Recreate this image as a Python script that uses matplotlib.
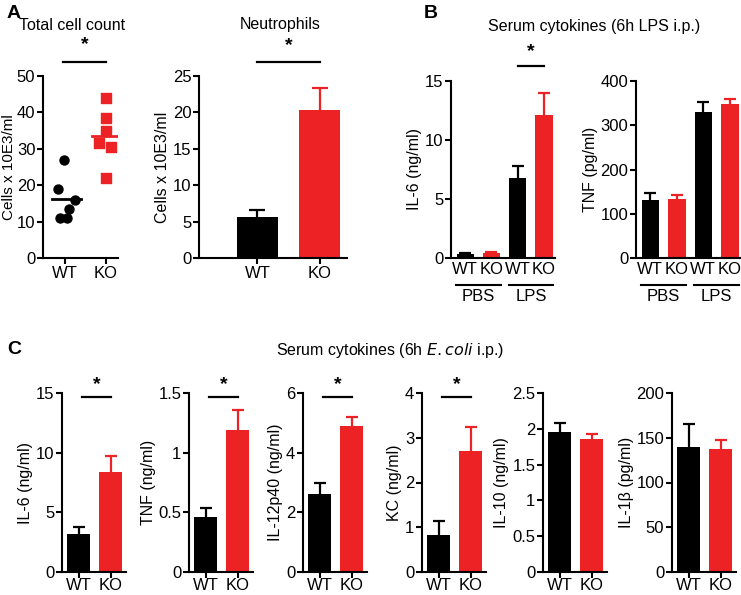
import numpy as np
import matplotlib.pyplot as plt

plt.rcParams['font.family'] = ['Liberation Sans', 'DejaVu Sans']
plt.rcParams['font.size'] = 10

RED = '#ED2224'
BLACK = '#000000'

# Panel A data
groups = ['WT', 'KO']
total_wt = [27, 19, 16, 13.5, 11, 11]
total_ko = [44, 38.5, 35, 31.5, 30.5, 22]
total_wt_x = [-0.03, -0.17, 0.25, 0.1, -0.12, 0.05]
total_ko_x = [0.0, 0.0, 0.0, -0.15, 0.13, 0.0]
neut_mean = [5.6, 20.3]
neut_err = [1.0, 3.0]

# Panel B data (WT PBS, KO PBS, WT LPS, KO LPS)
b_labels = ['WT', 'KO', 'WT', 'KO']
lps_il6 = [0.3, 0.4, 6.8, 12.1]
lps_il6_err = [0.1, 0.07, 1.0, 1.9]
lps_tnf = [132, 133, 329, 348]
lps_tnf_err = [16, 10, 24, 12]

# Panel C data
c_names = ['IL-6 (ng/ml)', 'TNF (ng/ml)', 'IL-12p40 (ng/ml)', 'KC (ng/ml)',
           'IL-10 (ng/ml)', 'IL-1\u03b2 (pg/ml)']
c_wt = [3.2, 0.46, 2.6, 0.83, 1.96, 140]
c_wt_err = [0.6, 0.08, 0.4, 0.3, 0.12, 25]
c_ko = [8.4, 1.19, 4.9, 2.7, 1.86, 137]
c_ko_err = [1.3, 0.17, 0.3, 0.53, 0.07, 11]
c_ymax = [15, 1.5, 6, 4, 2.5, 200]
c_ticks = [[0, 5, 10, 15], [0, 0.5, 1, 1.5], [0, 2, 4, 6], [0, 1, 2, 3, 4],
           [0, 0.5, 1, 1.5, 2, 2.5], [0, 50, 100, 150, 200]]
c_ticklabels = [['0', '5', '10', '15'], ['0', '0.5', '1', '1.5'],
                ['0', '2', '4', '6'], ['0', '1', '2', '3', '4'],
                ['0', '0.5', '1', '1.5', '2', '2.5'],
                ['0', '50', '100', '150', '200']]
c_sig = [True, True, True, True, False, False]

W, H = 741, 595
TICK_FS = 12
LABEL_FS = 11.5
fig = plt.figure(figsize=(W / 100, H / 100), dpi=100)


def add_ax(left, right, top, bottom):
    return fig.add_axes([left / W, 1 - bottom / H, (right - left) / W, (bottom - top) / H])


def style(ax):
    for s in ['top', 'right']:
        ax.spines[s].set_visible(False)
    for s in ['left', 'bottom']:
        ax.spines[s].set_linewidth(1.5)
    ax.tick_params(width=1.5, length=4, labelsize=TICK_FS, pad=1.5)


def err_up(ax, x, y, e, color, capsize):
    # upward-only error bar with a single cap
    res = ax.errorbar([x], [y], yerr=[[0], [e]], fmt='none', ecolor=color,
                      elinewidth=1.6, capsize=capsize, capthick=1.6)
    res[1][0].set_visible(False)


def sig(ax, x0, x1, y, star_y):
    ax.plot([x0, x1], [y, y], color='black', lw=1.6, clip_on=False)
    ax.text((x0 + x1) / 2, star_y, '*', ha='center', va='center', fontsize=14,
            fontweight='bold', clip_on=False)


# ---- A: total cell count
ax = add_ax(43, 118, 76, 258)
style(ax)
ax.scatter(total_wt_x, total_wt, s=42, color=BLACK, marker='o', zorder=3)
ax.scatter(np.array(total_ko_x) + 1, total_ko, s=42, color=RED, marker='s', zorder=3)
ax.plot([-0.33, 0.38], [np.mean(total_wt)] * 2, color=BLACK, lw=2)
ax.plot([0.67, 1.33], [np.mean(total_ko)] * 2, color=RED, lw=2)
ax.set_xlim(-0.55, 1.31)
ax.set_ylim(0, 50)
ax.set_yticks([0, 10, 20, 30, 40, 50])
ax.set_xticks([0, 1])
ax.set_xticklabels(groups)
ax.set_ylabel('Cells x 10E3/ml', fontsize=11, labelpad=0.5)
sig(ax, -0.05, 1.0, 53.8, 58.5)
fig.text(72 / W, 1 - 25 / H, 'Total cell count', ha='center', va='center', fontsize=LABEL_FS)

# ---- A: neutrophils
ax = add_ax(199, 347, 76, 258)
style(ax)
ax.bar([0, 1], neut_mean, width=0.66, color=[BLACK, RED])
err_up(ax, 0, neut_mean[0], neut_err[0], BLACK, 6)
err_up(ax, 1, neut_mean[1], neut_err[1], RED, 6)
ax.set_xlim(-0.94, 1.44)
ax.set_ylim(0, 25)
ax.set_yticks([0, 5, 10, 15, 20, 25])
ax.set_xticks([0, 1])
ax.set_xticklabels(groups)
ax.set_ylabel('Cells x 10E3/ml', fontsize=LABEL_FS, labelpad=2)
sig(ax, 0.0, 1.0, 26.9, 29.2)
fig.text(280 / W, 1 - 25 / H, 'Neutrophils', ha='center', va='center', fontsize=LABEL_FS)

# ---- B
fig.text(594 / W, 1 - 27 / H, 'Serum cytokines (6h LPS i.p.)', ha='center', va='center',
         fontsize=LABEL_FS)
b_colors = [BLACK, RED, BLACK, RED]
for (left, right, vals, errs, ymax, ticks, ylabel) in [
        (451, 555, lps_il6, lps_il6_err, 15, [0, 5, 10, 15], 'IL-6 (ng/ml)'),
        (636, 741, lps_tnf, lps_tnf_err, 400, [0, 100, 200, 300, 400], 'TNF (pg/ml)')]:
    ax = add_ax(left, right, 81, 258)
    style(ax)
    xs = np.arange(4)
    ax.bar(xs, vals, width=0.66, color=b_colors)
    for xi, v, e, c in zip(xs, vals, errs, b_colors):
        err_up(ax, xi, v, e, c, 4)
    ax.set_xlim(-0.54, 3.42)
    ax.set_ylim(0, ymax)
    ax.set_yticks(ticks)
    ax.set_xticks(xs)
    ax.set_xticklabels(b_labels)
    ax.tick_params(axis='x', length=0, pad=3)
    ax.set_ylabel(ylabel, fontsize=LABEL_FS, labelpad=2)
    for x0, x1, lab in [(-0.35, 1.35, 'PBS'), (1.65, 3.35, 'LPS')]:
        ax.plot([x0, x1], [-ymax * 0.153] * 2, color='black', lw=1.5, clip_on=False)
        ax.text((x0 + x1) / 2, -ymax * 0.218, lab, ha='center', va='center',
                fontsize=TICK_FS, clip_on=False)
    if ylabel.startswith('IL-6'):
        sig(ax, 2.0, 3.0, 16.3, 17.5)

# ---- C
fig.text(14 / W, 1 - 350 / H, 'C', ha='center', va='center', fontsize=14, fontweight='bold')
fig.text(390 / W, 1 - 350 / H, 'Serum cytokines (6h $\\mathit{E.coli}$ i.p.)',
         ha='center', va='center', fontsize=LABEL_FS)
c_lefts = [62, 189, 303, 422, 543, 672]
for i in range(6):
    left = c_lefts[i]
    ax = add_ax(left, left + 64, 393, 572)
    style(ax)
    ax.bar([0, 1], [c_wt[i], c_ko[i]], width=0.72, color=[BLACK, RED])
    err_up(ax, 0, c_wt[i], c_wt_err[i], BLACK, 4)
    err_up(ax, 1, c_ko[i], c_ko_err[i], RED, 4)
    ax.set_xlim(-0.52, 1.47)
    ax.set_ylim(0, c_ymax[i])
    ax.set_yticks(c_ticks[i])
    ax.set_yticklabels(c_ticklabels[i])
    ax.set_xticks([0, 1])
    ax.set_xticklabels(groups)
    ax.tick_params(axis='x', pad=0.5)
    ax.set_ylabel(c_names[i], fontsize=LABEL_FS, labelpad=2)
    if c_sig[i]:
        sig(ax, 0.1, 1.0, c_ymax[i] * 0.978, c_ymax[i] * 1.045)

# panel letters
fig.text(14 / W, 1 - 13 / H, 'A', ha='center', va='center', fontsize=14, fontweight='bold')
fig.text(431 / W, 1 - 13 / H, 'B', ha='center', va='center', fontsize=14, fontweight='bold')

fig.savefig('out.png', dpi=100)
